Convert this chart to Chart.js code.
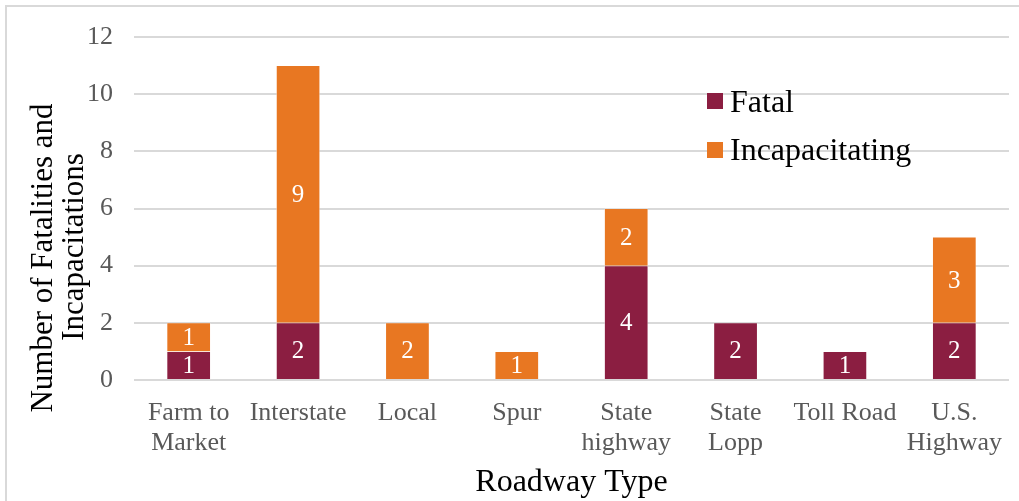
<!DOCTYPE html>
<html>
<head>
<meta charset="utf-8">
<script src="https://cdn.jsdelivr.net/npm/chart.js@4.4.1/dist/chart.umd.min.js"></script>
<style>
    html, body { margin: 0; padding: 0; background: #fff; }
    #wrap { position: relative; width: 1019px; height: 501px; }
    #frame {
        position: absolute; left: 5px; top: 5px; right: -5px; bottom: -5px;
        border-left: 2px solid #d9d9d9; border-top: 2px solid #d9d9d9;
        pointer-events: none;
    }
    #legend {
        position: absolute; left: 707px; top: 77px;
        font-family: "Liberation Serif", "Times New Roman", serif;
        font-size: 32px; color: #000;
    }
    #legend div { display: flex; align-items: center; height: 48.5px; }
    #legend span.box { width: 16px; height: 16px; margin-right: 7px; display: inline-block; }
</style>
</head>
<body>
<div id="wrap">
    <canvas id="chart" width="1019" height="501"></canvas>
    <div id="frame"></div>
    <div id="legend"></div>
</div>
<script>
// Chart data
const categories = [['Farm to', 'Market'], 'Interstate', 'Local', 'Spur', ['State', 'highway'], ['State', 'Lopp'], 'Toll Road', ['U.S.', 'Highway']];
const fatal = [1, 2, 0, 0, 4, 2, 1, 2];
const incapacitating = [1, 9, 2, 1, 2, 0, 0, 3];
const yTicks = [0, 2, 4, 6, 8, 10, 12];
const yTitleLines = ['Number of Fatalities and', 'Incapacitations'];

const serif = '"Liberation Serif", "Times New Roman", serif';
const colors = {
    fatal: '#8b1e41',
    incapacitating: '#e87722'
};

// Draws the white value labels in the middle of each segment
const valueLabels = {
    id: 'valueLabels',
    afterDatasetsDraw(chart) {
        const ctx = chart.ctx;
        ctx.save();
        ctx.fillStyle = '#fff';
        ctx.font = '25px ' + serif;
        ctx.textAlign = 'center';
        ctx.textBaseline = 'middle';
        chart.data.datasets.forEach((ds, i) => {
            chart.getDatasetMeta(i).data.forEach((bar, j) => {
                if (!ds.data[j]) return;
                const mid = (bar.y + bar.base) / 2;
                ctx.fillText(ds.data[j], bar.x, mid + 1);
            });
        });
        ctx.restore();
    }
};

// Y axis title, centred on the whole canvas height like the original
const yTitle = {
    id: 'yTitle',
    afterDraw(chart) {
        const ctx = chart.ctx;
        ctx.save();
        ctx.fillStyle = '#000';
        ctx.font = '31px ' + serif;
        ctx.textAlign = 'center';
        ctx.textBaseline = 'alphabetic';
        const baselines = [52, 83];
        const centres = [258, 247];
        yTitleLines.forEach((line, i) => {
            ctx.save();
            ctx.translate(baselines[i], centres[i]);
            ctx.rotate(-Math.PI / 2);
            ctx.fillText(line, 0, 0);
            ctx.restore();
        });
        ctx.restore();
    }
};

const chart = new Chart(document.getElementById('chart'), {
    type: 'bar',
    data: {
        labels: categories,
        datasets: [
            {
                label: 'Fatal',
                data: fatal,
                backgroundColor: colors.fatal,
                borderColor: '#fff',
                borderWidth: 0.5
            },
            {
                label: 'Incapacitating',
                data: incapacitating,
                backgroundColor: colors.incapacitating,
                borderColor: '#fff',
                borderWidth: 0.5
            }
        ]
    },
    options: {
        responsive: false,
        animation: false,
        layout: { padding: { top: 37, right: 10, left: 0, bottom: 0 } },
        plugins: {
            legend: { display: false },
            tooltip: { enabled: false }
        },
        datasets: {
            bar: { categoryPercentage: 1, barPercentage: 0.4 }
        },
        scales: {
            x: {
                stacked: true,
                afterFit: axis => {
                    axis.height = 121;
                    axis.paddingRight = 0;
                    axis.paddingLeft = 0;
                },
                grid: { display: false, drawTicks: false },
                border: { display: false },
                ticks: {
                    color: '#595959',
                    font: { family: serif, size: 26, lineHeight: 1.12 },
                    maxRotation: 0,
                    autoSkip: false,
                    padding: 19
                },
                title: {
                    display: true,
                    text: 'Roadway Type',
                    color: '#000',
                    font: { family: serif, size: 32 },
                    padding: { top: 0, bottom: -1 }
                }
            },
            y: {
                stacked: true,
                min: 0,
                max: 12,
                afterFit: axis => { axis.width = 134; },
                afterBuildTicks: axis => {
                    axis.ticks = yTicks.map(v => ({ value: v }));
                },
                grid: { color: '#d9d9d9', lineWidth: 2, drawTicks: false },
                border: { display: false },
                ticks: {
                    color: '#595959',
                    font: { family: serif, size: 26 },
                    padding: 21
                }
            }
        }
    },
    plugins: [valueLabels, yTitle]
});

// Legend drawn from the dataset labels and colours
const legend = document.getElementById('legend');
chart.data.datasets.forEach(ds => {
    const row = document.createElement('div');
    row.innerHTML = `<span class="box" style="background:${ds.backgroundColor}"></span>${ds.label}`;
    legend.appendChild(row);
});
</script>
</body>
</html>
